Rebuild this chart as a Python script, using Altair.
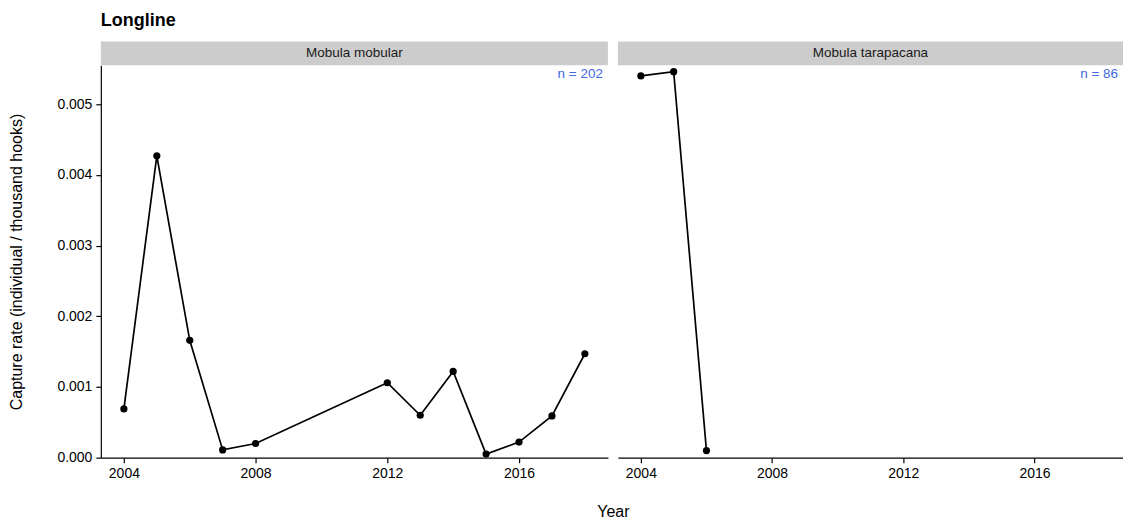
import altair as alt
import pandas as pd

years_mobular = [2004, 2005, 2006, 2007, 2008, 2012, 2013, 2014, 2015, 2016, 2017, 2018]
rate_mobular = [0.00069, 0.00427, 0.00166, 0.00011, 0.00020, 0.00106, 0.00060, 0.00122, 0.00005, 0.00022, 0.00059, 0.00147]
years_tarapacana = [2004, 2005, 2006]
rate_tarapacana = [0.00540, 0.00546, 0.00010]
species = ["Mobula mobular", "Mobula tarapacana"]
counts = ["n = 202", "n = 86"]
x_ticks = [2004, 2008, 2012, 2016]
y_ticks = [0.000, 0.001, 0.002, 0.003, 0.004, 0.005]

FONT = "Liberation Sans"
W1, W2, H = 508, 506, 393


def panel(years, rates, name, n_label, w, first):
    df = pd.DataFrame({"year": years, "rate": rates})
    x_axis = alt.Axis(values=x_ticks, format="d", title="Year" if first else None,
                      titleX=w + 5 if first else 0, titleY=54, titleBaseline="middle",
                      titleAlign="center")
    y_axis = alt.Axis(values=y_ticks, format=".3f",
                      title="Capture rate (individual / thousand hooks)",
                      titleX=-84, titleY=H / 2, titleBaseline="middle",
                      titleAlign="center") if first else None
    x = alt.X("year:Q", scale=alt.Scale(domain=[2003.3, 2018.7], nice=False, zero=False), axis=x_axis)
    y = alt.Y("rate:Q", scale=alt.Scale(domain=[0, 0.00555], nice=False), axis=y_axis)

    base = alt.Chart(df).encode(x=x, y=y)
    line = base.mark_line(color="black", strokeWidth=1.7)
    pts = base.mark_point(filled=True, color="black", size=52, opacity=1)

    lab = pd.DataFrame({"label": [name], "n": [n_label]})
    strip = alt.Chart(lab).mark_rect(color="#CCCCCC").encode(
        x=alt.value(0), x2=alt.value(w), y=alt.value(-24), y2=alt.value(0))
    strip_txt = alt.Chart(lab).mark_text(fontSize=13.5, font=FONT, color="#1A1A1A", baseline="middle").encode(
        text="label:N", x=alt.value(w / 2), y=alt.value(-12))
    n_txt = alt.Chart(lab).mark_text(fontSize=13.5, font=FONT, color="#4169E1", align="right", baseline="middle").encode(
        text="n:N", x=alt.value(w - 5), y=alt.value(9))

    return alt.layer(strip, strip_txt, line, pts, n_txt).properties(width=w, height=H)


left = panel(years_mobular, rate_mobular, species[0], counts[0], W1, True)
right = panel(years_tarapacana, rate_tarapacana, species[1], counts[1], W2, False)

chart = alt.hconcat(left, right, spacing=10, bounds="flush").properties(
    title=alt.TitleParams("Longline", anchor="start", frame="group", fontSize=18,
                          fontWeight="bold", font=FONT, color="black", offset=11),
    padding={"left": 0, "top": 4, "right": 0, "bottom": 0},
).configure(font=FONT).configure_view(stroke=None).configure_axis(
    grid=False, domainColor="black", domainWidth=1.2, tickColor="black", tickWidth=1.2,
    tickSize=5, labelPadding=4, labelFontSize=14, labelColor="black", labelFont=FONT,
    titleFontSize=16, titleFont=FONT, titleColor="black", titleFontWeight="normal",
)

chart.save("out.html", embed_options={"renderer": "svg", "actions": False})
